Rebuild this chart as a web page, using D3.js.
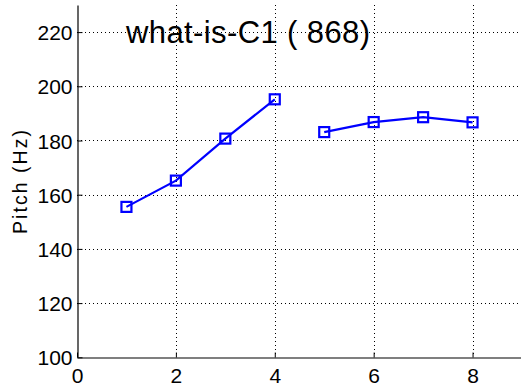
<!DOCTYPE html>
<html>
<head>
<meta charset="utf-8">
<script src="https://cdn.jsdelivr.net/npm/d3@7"></script>
<style>
  html, body { margin: 0; padding: 0; background: #fff; }
  svg { display: block; font-family: "Liberation Sans", Arial, Helvetica, sans-serif; }
</style>
</head>
<body>
<svg id="chart" width="521" height="387"></svg>
<script>
// Pitch contour: two voiced segments separated by a gap
const frames = [1, 2, 3, 4, 5, 6, 7, 8];
const pitchHz = [155.5, 165.2, 180.7, 195.2, 183.1, 186.8, 188.6, 186.7];
const segmentId = [0, 0, 0, 0, 1, 1, 1, 1];
const xTicks = [0, 2, 4, 6, 8];
const yTicks = [100, 120, 140, 160, 180, 200, 220];
const titleText = "what-is-C1 ( 868)";
const yLabelText = "Pitch (Hz)";

(function draw() {
  const svg = d3.select("#chart");
  const plotL = 77, plotR = 522, plotT = 5, plotB = 357.3;

  const x = d3.scaleLinear().domain([0, 9]).range([plotL, plotR]);
  const y = d3.scaleLinear().domain([100, 230]).range([plotB, plotT]);

  // dotted grid
  const grid = svg.append("g").attr("stroke", "#000").attr("stroke-width", 1)
    .attr("stroke-dasharray", "1,3").attr("shape-rendering", "crispEdges");
  grid.selectAll("line.gx").data(xTicks.filter(d => d > 0)).join("line")
    .attr("x1", d => Math.round(x(d)) + 0.5).attr("x2", d => Math.round(x(d)) + 0.5)
    .attr("y1", plotT).attr("y2", plotB);
  grid.selectAll("line.gy").data(yTicks.filter(d => d > 100)).join("line")
    .attr("x1", plotL).attr("x2", plotR)
    .attr("y1", d => Math.round(y(d)) + 0.5).attr("y2", d => Math.round(y(d)) + 0.5);

  // axes with inward ticks
  const xAxis = d3.axisBottom(x).tickValues(xTicks).tickSizeInner(-5).tickSizeOuter(0).tickPadding(10);
  const yAxis = d3.axisLeft(y).tickValues(yTicks).tickSizeInner(-5).tickSizeOuter(0).tickPadding(5);

  const gx = svg.append("g").attr("transform", `translate(0,${Math.round(plotB) + 0.5})`).call(xAxis);
  const gy = svg.append("g").attr("transform", `translate(${Math.round(plotL) + 0.5},0)`).call(yAxis);
  [gx, gy].forEach(g => {
    g.select(".domain").attr("stroke", "#000").attr("stroke-width", 1.2);
    g.selectAll(".tick line").attr("stroke", "#000");
    g.selectAll(".tick text").attr("fill", "#000")
      .attr("font-size", 21).attr("font-family", "Liberation Sans, Arial, sans-serif");
  });
  gx.selectAll(".tick text").attr("dy", "0.75em");
  gy.selectAll(".tick text").attr("dy", "0.36em");

  // axis label
  svg.append("text")
    .attr("transform", `translate(27,182) rotate(-90)`)
    .attr("text-anchor", "middle")
    .attr("font-size", 19.5)
    .attr("textLength", 104)
    .attr("lengthAdjust", "spacing")
    .attr("fill", "#000")
    .text(yLabelText);

  // title inside plot area
  svg.append("text")
    .attr("x", 126).attr("y", 43)
    .attr("font-size", 31)
    .attr("textLength", 244)
    .attr("lengthAdjust", "spacing")
    .attr("fill", "#000")
    .text(titleText);

  // pitch line, broken at the segment change
  const pts = frames.map((f, i) => ({ f, v: pitchHz[i], s: segmentId[i] }));
  const line = d3.line().x(d => x(d.f)).y(d => y(d.v));
  d3.groups(pts, d => d.s).forEach(([, seg]) => {
    svg.append("path").datum(seg)
      .attr("d", line)
      .attr("fill", "none")
      .attr("stroke", "#0000ff")
      .attr("stroke-width", 2.2);
  });

  // square markers
  const ms = 10;
  svg.selectAll("rect.mk").data(pts).join("rect")
    .attr("class", "mk")
    .attr("x", d => x(d.f) - ms / 2)
    .attr("y", d => y(d.v) - ms / 2)
    .attr("width", ms).attr("height", ms)
    .attr("fill", "none")
    .attr("stroke", "#0000ff")
    .attr("stroke-width", 2.2);
})();
</script>
</body>
</html>
